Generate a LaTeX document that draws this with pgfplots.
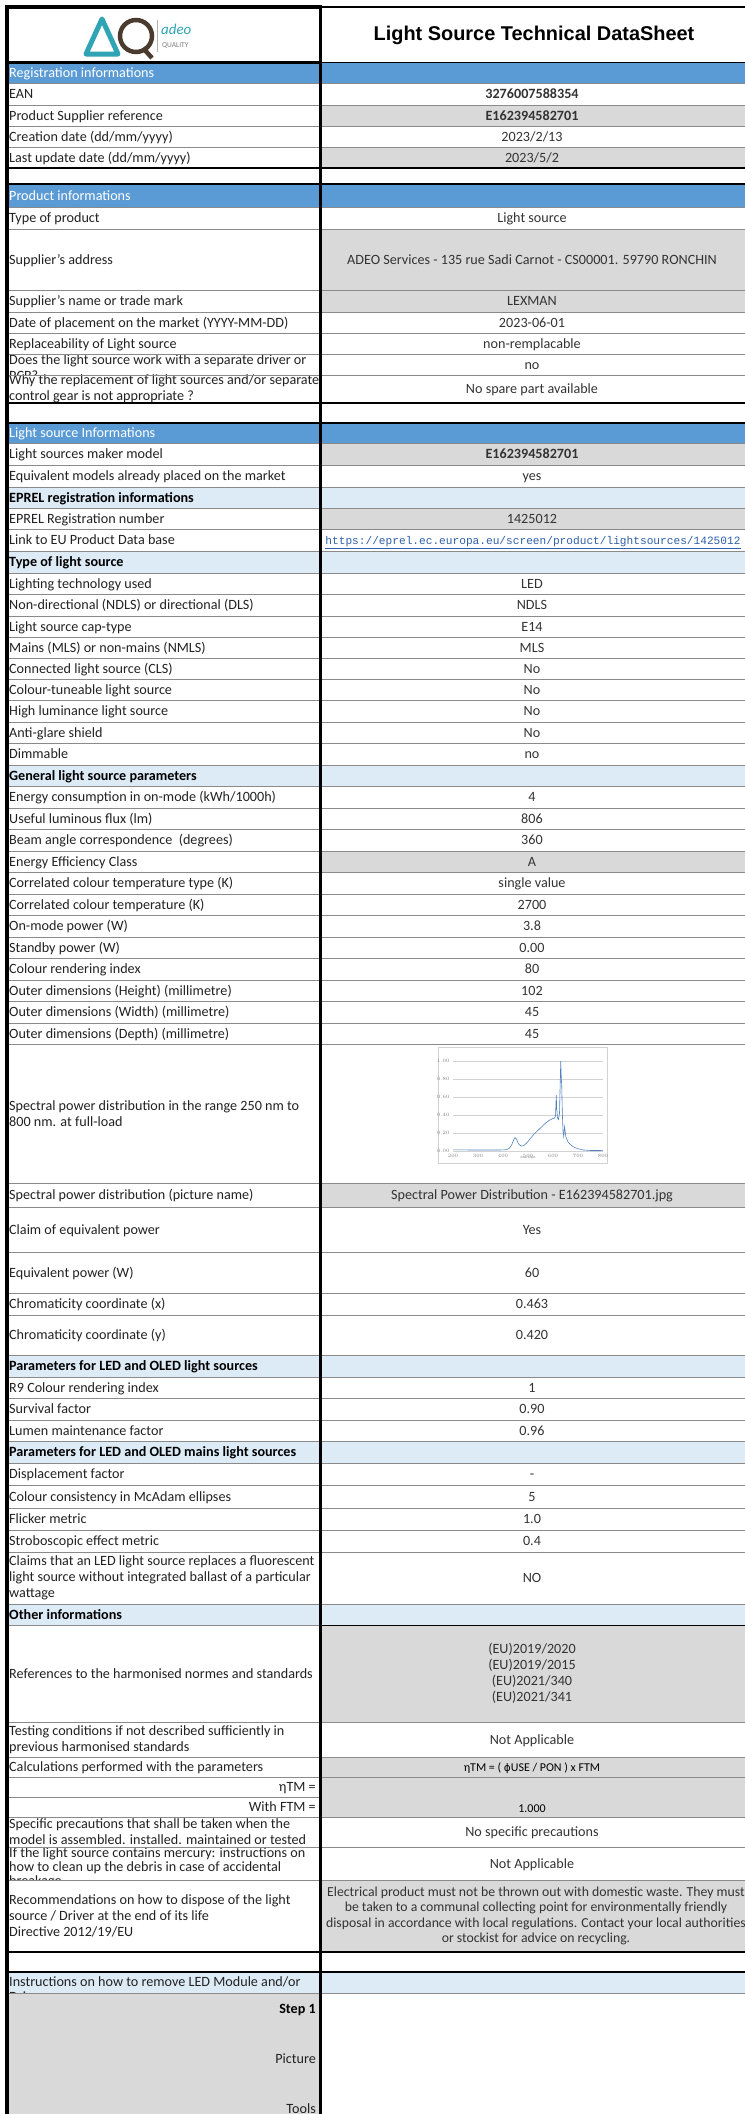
\documentclass[border=0pt]{standalone}
\usepackage{fontspec}
\setmainfont{Carlito}
\newfontfamily\titlefont{Liberation Sans}
\newfontfamily\linkfont{Liberation Mono}
\newfontfamily\dejavu{DejaVu Sans}
\usepackage{pgfplots}
\pgfplotsset{compat=1.18}

\definecolor{hdrblue}{HTML}{5B9BD5}
\definecolor{subblue}{HTML}{DDEBF7}
\definecolor{cellgray}{HTML}{D9D9D9}
\definecolor{linegray}{HTML}{8A8A8A}
\definecolor{lbltxt}{HTML}{222222}
\definecolor{valtxt}{HTML}{333333}
\definecolor{linkblue}{HTML}{2E5FA8}
\definecolor{logoteal}{HTML}{2FA4B4}
\definecolor{logobrown}{HTML}{4B3A2E}
\definecolor{specblue}{HTML}{4F81BD}

\newcommand{\lbl}{\fontsize{14.2}{16}\selectfont}
\newcommand{\val}{\fontsize{14.2}{16}\selectfont}

% single-line label / value
\newcommand{\Lb}[3]{\node[anchor=base west,inner sep=0,font=\lbl,text=lbltxt] at (9,{(#1+#2)/2+4.8}) {#3};}
\newcommand{\Lm}[3]{\node[anchor=west,inner sep=0,font=\lbl,text=lbltxt,align=left] at (9,{(#1+#2)/2}) {#3};}
\newcommand{\Lt}[2]{\node[anchor=base west,inner sep=0,font=\lbl,text=lbltxt] at (9,#1) {#2};}
\newcommand{\Vb}[3]{\node[anchor=base,inner sep=0,font=\val,text=valtxt] at (532,{(#1+#2)/2+4.8}) {#3};}
\newcommand{\Vm}[3]{\node[inner sep=0,font=\val,text=valtxt,align=center] at (532,{(#1+#2)/2}) {#3};}
\newcommand{\Rg}[2]{\fill[cellgray] (320,#1) rectangle (745,#2);}
\newcommand{\BH}[3]{\fill[hdrblue] (7,#1) rectangle (745,#2); \node[anchor=base west,inner sep=0,font=\lbl,text=white] at (9,{(#1+#2)/2+4.8}) {#3};}
\newcommand{\SH}[3]{\fill[subblue] (7,#1) rectangle (745,#2); \node[anchor=base west,inner sep=0,font=\lbl\bfseries,text=black] at (9,{(#1+#2)/2+4.8}) {#3};}

\begin{document}
\begin{tikzpicture}
\path[use as bounding box] (0,0) rectangle (745bp,-2114bp);
\clip (0,0) rectangle (745bp,-2114bp);
\fill[white] (0,0) rectangle (745bp,-2114bp);
\begin{scope}[x=1bp,y=-1bp]
% ---------- logo and title
\draw[logoteal, line width=5bp, line join=round] (86,54) -- (102,19) -- (118,54) -- cycle;
\draw[logobrown, line width=4.5bp] (136,36) circle (16);
\draw[logobrown, line width=4.5bp] (143,48) -- (152,58);
\draw[gray!60, line width=0.8bp] (157,20) -- (157,52);
\node[anchor=base west, font=\itshape\fontsize{15}{15}\selectfont, text=logoteal, inner sep=0] at (161,34) {adeo};
\node[anchor=base west, font=\fontsize{7.5}{8}\selectfont, text=gray, inner sep=0] at (162,47) {QUALITY};
\node[font=\titlefont\bfseries\fontsize{20}{24}\selectfont, text=black, inner sep=0] at (534,35) {Light Source Technical DataSheet};
% ---------- registration
\BH{62}{83}{Registration informations}
\Lb{83}{105}{EAN} \Vb{83}{105}{\bfseries 3276007588354}
\Rg{105}{126} \Lb{105}{126}{Product Supplier reference} \Vb{105}{126}{\bfseries E162394582701}
\Lb{126}{147}{Creation date (dd/mm/yyyy)} \Vb{126}{147}{2023/2/13}
\Rg{147}{168} \Lb{147}{168}{Last update date (dd/mm/yyyy)} \Vb{147}{168}{2023/5/2}
% ---------- product
\BH{184}{207}{Product informations}
\Lb{207}{229}{Type of product} \Vb{207}{229}{Light source}
\Rg{229}{290} \Lb{229}{290}{Supplier's address} \Vb{229}{290}{ADEO Services - 135 rue Sadi Carnot - CS00001. 59790 RONCHIN}
\Rg{290}{312} \Lb{290}{312}{Supplier's name or trade mark} \Vb{290}{312}{LEXMAN}
\Lb{312}{333}{Date of placement on the market (YYYY-MM-DD)} \Vb{312}{333}{2023-06-01}
\Lb{333}{354}{Replaceability of Light source} \Vb{333}{354}{non-remplacable}
\begin{scope}
\clip (7,354) rectangle (320,375);
\Lt{364}{Does the light source work with a separate driver or}
\Lt{380}{PCB?}
\end{scope}
\Vb{354}{375}{no}
\Lm{375}{403}{Why the replacement of light sources and/or separate\\control gear is not appropriate ?} \Vb{375}{403}{No spare part available}
% ---------- light source
\BH{423}{443}{Light source Informations}
\Rg{443}{465} \Lb{443}{465}{Light sources maker model} \Vb{443}{465}{\bfseries E162394582701}
\Lb{465}{487}{Equivalent models already placed on the market} \Vb{465}{487}{yes}
\SH{487}{508}{EPREL registration informations}
\Rg{508}{529} \Lb{508}{529}{EPREL Registration number} \Vb{508}{529}{1425012}
\Lb{529}{551}{Link to EU Product Data base}
\node[anchor=base,inner sep=0,font=\linkfont\fontsize{11.2}{13}\selectfont,text=linkblue] at (533,{(529+551)/2+4.5}) {\underline{https://eprel.ec.europa.eu/screen/product/lightsources/1425012}};
\SH{551}{573}{Type of light source}
\Lb{573}{594}{Lighting technology used} \Vb{573}{594}{LED}
\Lb{594}{616}{Non-directional (NDLS) or directional (DLS)} \Vb{594}{616}{NDLS}
\Lb{616}{637}{Light source cap-type} \Vb{616}{637}{E14}
\Lb{637}{658}{Mains (MLS) or non-mains (NMLS)} \Vb{637}{658}{MLS}
\Lb{658}{679}{Connected light source (CLS)} \Vb{658}{679}{No}
\Lb{679}{700}{Colour-tuneable light source} \Vb{679}{700}{No}
\Lb{700}{722}{High luminance light source} \Vb{700}{722}{No}
\Lb{722}{743}{Anti-glare shield} \Vb{722}{743}{No}
\Lb{743}{765}{Dimmable} \Vb{743}{765}{no}
\SH{765}{786}{General light source parameters}
\Lb{786}{808}{Energy consumption in on-mode (kWh/1000h)} \Vb{786}{808}{4}
\Lb{808}{829}{Useful luminous flux (lm)} \Vb{808}{829}{806}
\Lb{829}{851}{Beam angle correspondence\ \ (degrees)} \Vb{829}{851}{360}
\Rg{851}{872} \Lb{851}{872}{Energy Efficiency Class} \Vb{851}{872}{A}
\Lb{872}{894}{Correlated colour temperature type (K)} \Vb{872}{894}{single value}
\Lb{894}{915}{Correlated colour temperature (K)} \Vb{894}{915}{2700}
\Lb{915}{937}{On-mode power (W)} \Vb{915}{937}{3.8}
\Lb{937}{958}{Standby power (W)} \Vb{937}{958}{0.00}
\Lb{958}{980}{Colour rendering index} \Vb{958}{980}{80}
\Lb{980}{1001}{Outer dimensions (Height) (millimetre)} \Vb{980}{1001}{102}
\Lb{1001}{1023}{Outer dimensions (Width) (millimetre)} \Vb{1001}{1023}{45}
\Lb{1023}{1044}{Outer dimensions (Depth) (millimetre)} \Vb{1023}{1044}{45}
\Lm{1044}{1183}{Spectral power distribution in the range 250 nm to\\800 nm. at full-load}
\draw[gray!35, line width=0.5bp] (438,1047) rectangle (607,1163);
\node[inner sep=0, font=\fontsize{3}{3}\selectfont, text=gray] at (528,1158) {Wave length};
\Rg{1183}{1207} \Lb{1183}{1207}{Spectral power distribution (picture name)} \Vb{1183}{1207}{Spectral Power Distribution - E162394582701.jpg}
\Lb{1207}{1252}{Claim of equivalent power} \Vb{1207}{1252}{Yes}
\Lb{1252}{1293}{Equivalent power (W)} \Vb{1252}{1293}{60}
\Lb{1293}{1315}{Chromaticity coordinate (x)} \Vb{1293}{1315}{0.463}
\Lb{1315}{1355}{Chromaticity coordinate (y)} \Vb{1315}{1355}{0.420}
\SH{1355}{1377}{Parameters for LED and OLED light sources}
\Lb{1377}{1398}{R9 Colour rendering index} \Vb{1377}{1398}{1}
\Lb{1398}{1420}{Survival factor} \Vb{1398}{1420}{0.90}
\Lb{1420}{1441}{Lumen maintenance factor} \Vb{1420}{1441}{0.96}
\SH{1441}{1463}{Parameters for LED and OLED mains light sources}
\Lb{1463}{1485}{Displacement factor} \Vb{1463}{1485}{-}
\Lb{1485}{1508}{Colour consistency in McAdam ellipses} \Vb{1485}{1508}{5}
\Lb{1508}{1530}{Flicker metric} \Vb{1508}{1530}{1.0}
\Lb{1530}{1552}{Stroboscopic effect metric} \Vb{1530}{1552}{0.4}
\Lm{1552}{1604}{Claims that an LED light source replaces a fluorescent\\light source without integrated ballast of a particular\\wattage} \Vb{1552}{1604}{NO}
\SH{1604}{1625}{Other informations}
\Rg{1625}{1722} \Lb{1625}{1722}{References to the harmonised normes and standards}
\Vm{1625}{1722}{(EU)2019/2020\\(EU)2019/2015\\(EU)2021/340\\(EU)2021/341}
\Lm{1722}{1757}{Testing conditions if not described sufficiently in\\previous harmonised standards} \Vb{1722}{1757}{Not Applicable}
\Rg{1757}{1817}
\Lb{1757}{1777}{Calculations performed with the parameters}
\node[anchor=base,inner sep=0,font=\fontsize{12}{14}\selectfont,text=black] at (532,{(1757+1777)/2+4.3}) {ηTM = ( {\dejavu\fontsize{10.5}{12}\selectfont ϕ}USE / PON ) x FTM};
\node[anchor=base east,inner sep=0,font=\lbl,text=lbltxt] at (316,{(1777+1797)/2+4.8}) {ηTM =};
\node[anchor=base east,inner sep=0,font=\lbl,text=lbltxt] at (316,{(1797+1817)/2+4.8}) {With FTM =};
\node[anchor=base,inner sep=0,font=\fontsize{12}{14}\selectfont,text=black] at (532,{(1797+1817)/2+5.5}) {1.000};
\Lm{1817}{1847}{Specific precautions that shall be taken when the\\model is assembled. installed. maintained or tested} \Vb{1817}{1847}{No specific precautions}
\begin{scope}
\clip (7,1847) rectangle (320,1880);
\Lt{1857}{If the light source contains mercury: instructions on}
\Lt{1871}{how to clean up the debris in case of accidental}
\Lt{1885}{breakage}
\end{scope}
\Vb{1847}{1880}{Not Applicable}
\Rg{1880}{1952}
\Lm{1880}{1952}{Recommendations on how to dispose of the light\\source / Driver at the end of its life\\Directive 2012/19/EU}
\node[inner sep=0,font=\fontsize{13.8}{15.5}\selectfont,text=valtxt,align=center] at (536,{(1880+1952)/2}) {Electrical product must not be thrown out with domestic waste. They must\\be taken to a communal collecting point for environmentally friendly\\disposal in accordance with local regulations. Contact your local authorities\\or stockist for advice on recycling.};
% ---------- instructions
\fill[subblue] (7,1972) rectangle (745,1993);
\begin{scope}
\clip (7,1972) rectangle (320,1993);
\Lt{1986}{Instructions on how to remove LED Module and/or}
\Lt{2001}{Driver}
\end{scope}
\fill[cellgray] (7,1993) rectangle (320,2114);
\node[anchor=base east,inner sep=0,font=\lbl\bfseries,text=black] at (316,2013) {Step 1};
\node[anchor=base east,inner sep=0,font=\lbl,text=lbltxt] at (316,2063) {Picture};
\node[anchor=base east,inner sep=0,font=\lbl,text=lbltxt] at (316,2113) {Tools};
% ---------- thin lines
\foreach \y in {83,105,126,147,207,229,290,312,333,354,375,443,465,487,508,529,551,573,594,616,637,658,679,700,722,743,765,786,808,829,851,872,894,915,937,958,980,1001,1023,1044,1183,1207,1252,1293,1315,1355,1377,1398,1420,1441,1463,1485,1508,1530,1552,1604,1625,1722,1757,1777,1817,1847,1880,1993}
  \draw[linegray, line width=0.75bp] (7,\y) -- (745,\y);
\draw[linegray, line width=0.75bp] (7,1797) -- (320,1797);
\draw[black, line width=0.9bp] (320,1625) -- (745,1625);
\draw[black, line width=0.9bp] (320,62) -- (745,62);
\draw[black, line width=1.2bp] (320,7) -- (745,7);
% ---------- thick lines
\draw[black, line width=3bp] (5.5,7) -- (320,7);
\draw[black, line width=3bp] (5.5,62) -- (320,62);
\foreach \y in {168,184,403,423,1952,1972}
  \draw[black, line width=2.6bp] (5.5,\y) -- (745,\y);
\draw[black, line width=3bp] (7,5.5) -- (7,2114);
\draw[black, line width=3bp] (320,5.5) -- (320,2114);
\end{scope}
\begin{axis}[
  at={(453bp,-1151bp)}, anchor=south west,
  scale only axis, width=150bp, height=90bp,
  xmin=200, xmax=800, ymin=0, ymax=1.0,
  xtick={200,300,...,800}, ytick={0,0.2,0.4,0.6,0.8,1.0},
  yticklabel style={/pgf/number format/fixed, /pgf/number format/fixed zerofill, /pgf/number format/precision=2},
  tick label style={font=\fontsize{2.8}{3}\selectfont, text=gray},
  major tick length=0pt,
  ymajorgrids, grid style={gray!35, line width=0.3pt},
  axis line style={draw=none},
  clip=false
]
\addplot[color=specblue, line width=0.6pt] coordinates {
(200,0.012) (250,0.012) (300,0.011) (350,0.011) (400,0.012) (415,0.015) (425,0.03) (435,0.07) (442,0.12) (448,0.15) (454,0.13) (462,0.08) (472,0.055) (482,0.058) (495,0.09) (510,0.14) (525,0.19) (540,0.23) (555,0.27) (570,0.31) (585,0.34) (598,0.36) (606,0.365) (610,0.39) (613,0.62) (615,0.47) (618,0.37) (622,0.35) (626,0.42) (629,0.78) (631,1.0) (633,0.82) (635,0.72) (637,0.45) (640,0.22) (643,0.16) (646,0.27) (648,0.23) (652,0.15) (660,0.10) (670,0.07) (685,0.04) (700,0.025) (720,0.012) (750,0.006) (800,0.005)
};
\end{axis}
\end{tikzpicture}
\end{document}
